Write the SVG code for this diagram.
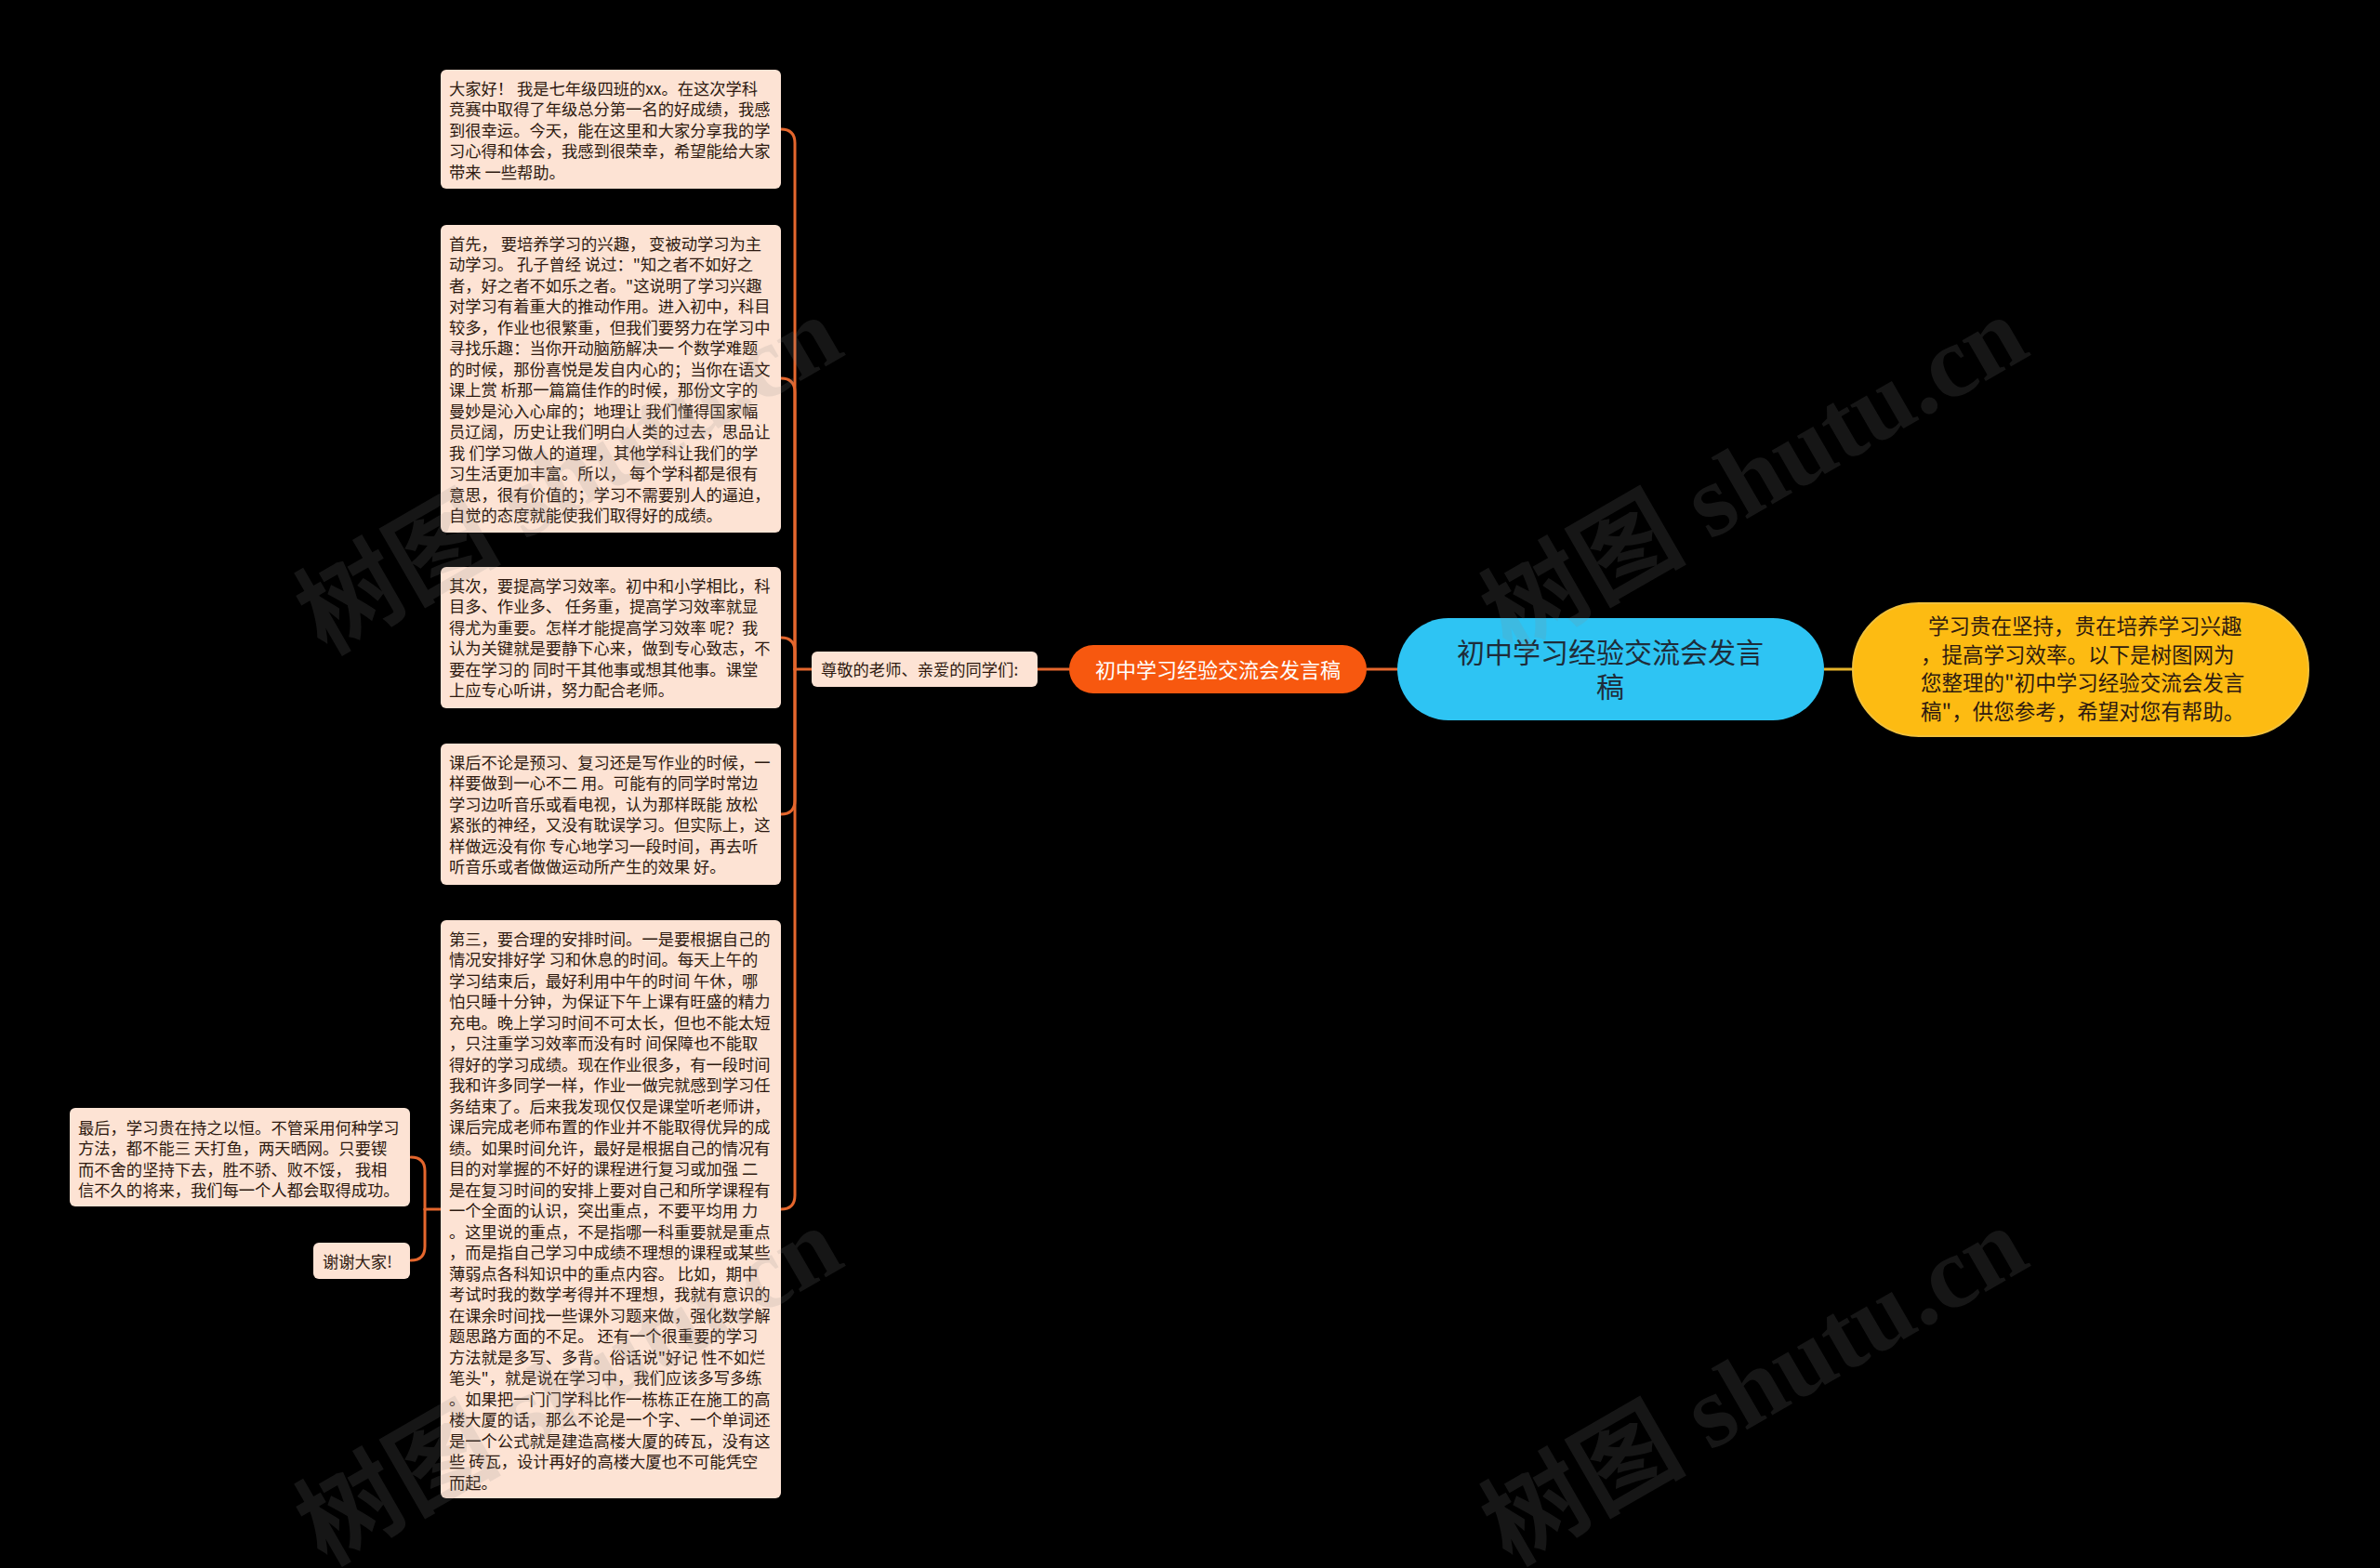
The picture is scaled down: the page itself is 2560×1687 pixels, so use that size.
<svg xmlns="http://www.w3.org/2000/svg" width="2560" height="1687" viewBox="0 0 2560 1687">
<defs>
<style>
.bg{fill:#000}
.box{fill:#fde3d4}
.t{font-family:"Noto Sans CJK SC","Noto Sans",sans-serif;font-size:17.3px;fill:#2e1a10}
.c{fill:none;stroke:#e4662d;stroke-width:3;stroke-linecap:round}
.cg{fill:none;stroke:#e5b32a;stroke-width:3}
.wm{font-family:"Liberation Serif","Noto Sans CJK SC",serif;font-size:110px;font-weight:bold;fill:#8a8a8a;opacity:0.16}
</style>
</defs>
<rect class="bg" x="0" y="0" width="2560" height="1687"/>

<g id="connectors">
<path class="cg" d="M1962,720 H1993"/>
<path class="c" d="M1470,720 H1503"/>
<path class="c" d="M1116,720 H1150"/>
<path class="c" d="M873,720 H855"/>
<path class="c" d="M855,720 V154 Q855,139 840,139"/>
<path class="c" d="M855,720 V422 Q855,407 840,407"/>
<path class="c" d="M855,720 V701 Q855,686 840,686"/>
<path class="c" d="M855,720 V861 Q855,876 840,876"/>
<path class="c" d="M855,720 V1286 Q855,1301 840,1301"/>
<path class="c" d="M474,1301 H457"/>
<path class="c" d="M457,1301 V1260 Q457,1245 442,1245"/>
<path class="c" d="M457,1301 V1341 Q457,1356 442,1356"/>
</g>

<g id="root">
<rect x="1503" y="665" width="459" height="110" rx="55" fill="#2ec4f3"/>
<text x="1732" y="713" text-anchor="middle" font-family="Noto Sans CJK SC, sans-serif" font-size="30" fill="#1e2d3a">初中学习经验交流会发言</text>
<text x="1732" y="750" text-anchor="middle" font-family="Noto Sans CJK SC, sans-serif" font-size="30" fill="#1e2d3a">稿</text>
</g>

<g id="summary">
<rect x="1993" y="649" width="490" height="143" rx="71" fill="#fdbb12" stroke="#f2c13a" stroke-width="2"/>
<text font-family="Noto Sans CJK SC, sans-serif" font-size="22.5" fill="#2e1a10">
<tspan x="2074" y="682">学习贵在坚持，贵在培养学习兴趣</tspan>
<tspan x="2066" y="712.5">，提高学习效率。以下是树图网为</tspan>
<tspan x="2066" y="743">您整理的"初中学习经验交流会发言</tspan>
<tspan x="2066" y="773.5">稿"，供您参考，希望对您有帮助。</tspan>
</text>
</g>

<g id="title">
<rect x="1150" y="694" width="320" height="52" rx="26" fill="#f7580f"/>
<text x="1310" y="729" text-anchor="middle" font-family="Noto Sans CJK SC, sans-serif" font-size="22" fill="#ffffff">初中学习经验交流会发言稿</text>
</g>

<g id="greeting">
<rect x="873" y="701" width="243" height="38" rx="6" class="box"/>
<text x="883" y="727" class="t">尊敬的老师、亲爱的同学们:</text>
</g>

<g id="p1">
<rect x="474" y="75" width="366" height="128" rx="6" class="box"/>
<text class="t">
<tspan x="483" y="101.5">大家好！ 我是七年级四班的xx。在这次学科</tspan>
<tspan x="483" y="124">竞赛中取得了年级总分第一名的好成绩，我感</tspan>
<tspan x="483" y="146.5">到很幸运。今天，能在这里和大家分享我的学</tspan>
<tspan x="483" y="169">习心得和体会，我感到很荣幸，希望能给大家</tspan>
<tspan x="483" y="191.5">带来 一些帮助。</tspan>
</text>
</g>

<g id="p2">
<rect x="474" y="242" width="366" height="331" rx="6" class="box"/>
<text class="t">
<tspan x="483" y="268.5">首先， 要培养学习的兴趣， 变被动学习为主</tspan>
<tspan x="483" y="291">动学习。 孔子曾经 说过："知之者不如好之</tspan>
<tspan x="483" y="313.5">者，好之者不如乐之者。"这说明了学习兴趣</tspan>
<tspan x="483" y="336">对学习有着重大的推动作用。进入初中，科目</tspan>
<tspan x="483" y="358.5">较多，作业也很繁重，但我们要努力在学习中</tspan>
<tspan x="483" y="381">寻找乐趣：当你开动脑筋解决一 个数学难题</tspan>
<tspan x="483" y="403.5">的时候，那份喜悦是发自内心的；当你在语文</tspan>
<tspan x="483" y="426">课上赏 析那一篇篇佳作的时候，那份文字的</tspan>
<tspan x="483" y="448.5">曼妙是沁入心扉的；地理让 我们懂得国家幅</tspan>
<tspan x="483" y="471">员辽阔，历史让我们明白人类的过去，思品让</tspan>
<tspan x="483" y="493.5">我 们学习做人的道理，其他学科让我们的学</tspan>
<tspan x="483" y="516">习生活更加丰富。所以， 每个学科都是很有</tspan>
<tspan x="483" y="538.5">意思，很有价值的；学习不需要别人的逼迫，</tspan>
<tspan x="483" y="561">自觉的态度就能使我们取得好的成绩。</tspan>
</text>
</g>

<g id="p3">
<rect x="474" y="610" width="366" height="152" rx="6" class="box"/>
<text class="t">
<tspan x="483" y="636.5">其次，要提高学习效率。初中和小学相比，科</tspan>
<tspan x="483" y="659">目多、作业多、 任务重，提高学习效率就显</tspan>
<tspan x="483" y="681.5">得尤为重要。怎样才能提高学习效率 呢？我</tspan>
<tspan x="483" y="704">认为关键就是要静下心来，做到专心致志，不</tspan>
<tspan x="483" y="726.5">要在学习的 同时干其他事或想其他事。课堂</tspan>
<tspan x="483" y="749">上应专心听讲，努力配合老师。</tspan>
</text>
</g>

<g id="p4">
<rect x="474" y="800" width="366" height="152" rx="6" class="box"/>
<text class="t">
<tspan x="483" y="826.5">课后不论是预习、复习还是写作业的时候，一</tspan>
<tspan x="483" y="849">样要做到一心不二 用。可能有的同学时常边</tspan>
<tspan x="483" y="871.5">学习边听音乐或看电视，认为那样既能 放松</tspan>
<tspan x="483" y="894">紧张的神经，又没有耽误学习。但实际上，这</tspan>
<tspan x="483" y="916.5">样做远没有你 专心地学习一段时间，再去听</tspan>
<tspan x="483" y="939">听音乐或者做做运动所产生的效果 好。</tspan>
</text>
</g>

<g id="p5">
<rect x="474" y="990" width="366" height="622" rx="6" class="box"/>
<text class="t">
<tspan x="483" y="1016.5">第三，要合理的安排时间。一是要根据自己的</tspan>
<tspan x="483" y="1039">情况安排好学 习和休息的时间。每天上午的</tspan>
<tspan x="483" y="1061.5">学习结束后，最好利用中午的时间 午休，哪</tspan>
<tspan x="483" y="1084">怕只睡十分钟，为保证下午上课有旺盛的精力</tspan>
<tspan x="483" y="1106.5">充电。晚上学习时间不可太长，但也不能太短</tspan>
<tspan x="483" y="1129">，只注重学习效率而没有时 间保障也不能取</tspan>
<tspan x="483" y="1151.5">得好的学习成绩。现在作业很多，有一段时间</tspan>
<tspan x="483" y="1174">我和许多同学一样，作业一做完就感到学习任</tspan>
<tspan x="483" y="1196.5">务结束了。后来我发现仅仅是课堂听老师讲，</tspan>
<tspan x="483" y="1219">课后完成老师布置的作业并不能取得优异的成</tspan>
<tspan x="483" y="1241.5">绩。如果时间允许，最好是根据自己的情况有</tspan>
<tspan x="483" y="1264">目的对掌握的不好的课程进行复习或加强 二</tspan>
<tspan x="483" y="1286.5">是在复习时间的安排上要对自己和所学课程有</tspan>
<tspan x="483" y="1309">一个全面的认识，突出重点，不要平均用 力</tspan>
<tspan x="483" y="1331.5">。这里说的重点，不是指哪一科重要就是重点</tspan>
<tspan x="483" y="1354">，而是指自己学习中成绩不理想的课程或某些</tspan>
<tspan x="483" y="1376.5">薄弱点各科知识中的重点内容。 比如，期中</tspan>
<tspan x="483" y="1399">考试时我的数学考得并不理想，我就有意识的</tspan>
<tspan x="483" y="1421.5">在课余时间找一些课外习题来做，强化数学解</tspan>
<tspan x="483" y="1444">题思路方面的不足。 还有一个很重要的学习</tspan>
<tspan x="483" y="1466.5">方法就是多写、多背。俗话说"好记 性不如烂</tspan>
<tspan x="483" y="1489">笔头"，就是说在学习中，我们应该多写多练</tspan>
<tspan x="483" y="1511.5">。如果把一门门学科比作一栋栋正在施工的高</tspan>
<tspan x="483" y="1534">楼大厦的话，那么不论是一个字、一个单词还</tspan>
<tspan x="483" y="1556.5">是一个公式就是建造高楼大厦的砖瓦，没有这</tspan>
<tspan x="483" y="1579">些 砖瓦，设计再好的高楼大厦也不可能凭空</tspan>
<tspan x="483" y="1601.5">而起。</tspan>
</text>
</g>

<g id="p6">
<rect x="75" y="1192" width="366" height="106" rx="6" class="box"/>
<text class="t">
<tspan x="84" y="1219.5">最后，学习贵在持之以恒。不管采用何种学习</tspan>
<tspan x="84" y="1242">方法，都不能三 天打鱼，两天晒网。只要锲</tspan>
<tspan x="84" y="1264.5">而不舍的坚持下去，胜不骄、败不馁， 我相</tspan>
<tspan x="84" y="1287">信不久的将来，我们每一个人都会取得成功。</tspan>
</text>
</g>

<g id="p7">
<rect x="337" y="1337" width="104" height="39" rx="6" class="box"/>
<text x="347" y="1363.5" class="t">谢谢大家!</text>
</g>

<g id="watermarks">
<text class="wm" transform="translate(350,705) rotate(-30)">树图 shutu.cn</text>
<text class="wm" transform="translate(1625,705) rotate(-30)">树图 shutu.cn</text>
<text class="wm" transform="translate(350,1685) rotate(-30)">树图 shutu.cn</text>
<text class="wm" transform="translate(1625,1685) rotate(-30)">树图 shutu.cn</text>
</g>
</svg>
